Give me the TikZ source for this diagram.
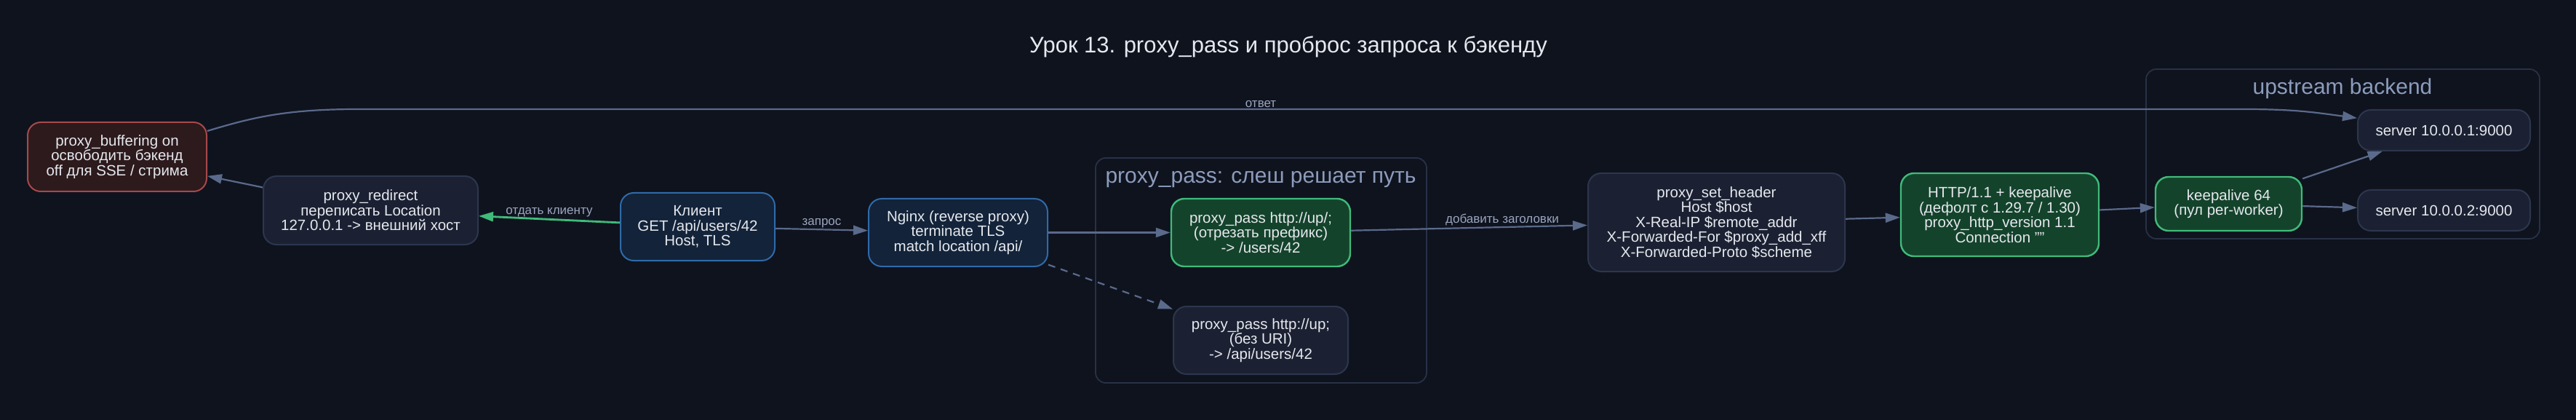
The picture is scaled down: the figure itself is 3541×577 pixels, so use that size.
\documentclass[tikz,border=0pt]{standalone}
\usepackage{fontspec}
\setmainfont{Liberation Sans}
\usetikzlibrary{arrows.meta}

\definecolor{bgc}{HTML}{0F131E}
\definecolor{txtc}{HTML}{E5E8EE}
\definecolor{lblc}{HTML}{9AA5BD}
\definecolor{edgec}{HTML}{5A6A8B}
\definecolor{plainfill}{HTML}{1B2132}
\definecolor{plainline}{HTML}{2C364D}
\definecolor{bluefill}{HTML}{132339}
\definecolor{blueline}{HTML}{2F6AA9}
\definecolor{okfill}{HTML}{14432B}
\definecolor{okline}{HTML}{3FBB7A}
\definecolor{warnfill}{HTML}{2C1A1C}
\definecolor{warnline}{HTML}{A6494A}
\definecolor{clusline}{HTML}{283146}
\definecolor{clustext}{HTML}{8C9CBC}

\tikzset{
  box/.style={draw, rounded corners=18pt, line width=2pt, align=center, text=txtc,
    minimum height=93pt, inner sep=0pt, font=\fontsize{20.5}{20.5}\selectfont},
  plainbox/.style={box, fill=plainfill, draw=plainline},
  bluebox/.style={box, fill=bluefill, draw=blueline},
  okbox/.style={box, fill=okfill, draw=okline, line width=2.4pt},
  warnbox/.style={box, fill=warnfill, draw=warnline},
  edge/.style={draw=edgec, line width=2.2pt, -{Triangle[length=20pt,width=13pt]}},
  lbl/.style={text=lblc, font=\fontsize{17}{17}\selectfont, inner sep=1.5pt},
  cluster/.style={draw=clusline, line width=1.8pt, rounded corners=14pt},
  ctitle/.style={text=clustext, anchor=base, font=\fontsize{30}{30}\selectfont},
}

\begin{document}
\begin{tikzpicture}[x=1pt, y=-1pt]
    % Fundo
    \fill[bgc] (0,0) rectangle (3541,577);
    \useasboundingbox (0,0) rectangle (3541,577);
    \node[anchor=base, text=txtc, font=\fontsize{31}{31}\selectfont] (title) at (1771,73) {Урок 13. proxy\_pass и проброс запроса к бэкенду};

    % Clusters
    \draw[cluster] (1506,217) rectangle (1961,526);
    \node[ctitle] (pptitle) at (1733,252) {proxy\_pass: слеш решает путь};
    \draw[cluster] (2950,95) rectangle (3491,328);
    \node[ctitle] (uptitle) at (3220,130) {upstream backend};

    % Nodes
    \node[warnbox, minimum width=246pt, minimum height=95pt] (buf) at (161,215.5) {proxy\_buffering on\\освободить бэкенд\\off для SSE / стрима};
    \node[plainbox, minimum width=295pt, minimum height=94pt] (redir) at (509.5,289) {proxy\_redirect\\переписать Location\\127.0.0.1 -> внешний хост};
    \node[bluebox, minimum width=212pt] (cli) at (959,311.5) {Клиент\\GET /api/users/42\\Host, TLS};
    \node[bluebox, minimum width=246pt] (ngx) at (1317,319.5) {Nginx (reverse proxy)\\terminate TLS\\match location /api/};
    \node[okbox, minimum width=246pt] (pp1) at (1733,319.5) {proxy\_pass http://up/;\\(отрезать префикс)\\-> /users/42};
    \node[plainbox, minimum width=240pt] (pp2) at (1733,467.5) {proxy\_pass http://up;\\(без URI)\\-> /api/users/42};
    \node[plainbox, minimum width=353pt, minimum height=135pt] (hdr) at (2359.5,305.5) {proxy\_set\_header\\Host \$host\\X-Real-IP \$remote\_addr\\X-Forwarded-For \$proxy\_add\_xff\\X-Forwarded-Proto \$scheme};
    \node[okbox, minimum width=272pt, minimum height=114pt] (http) at (2749,295) {HTTP/1.1 + keepalive\\(дефолт с 1.29.7 / 1.30)\\proxy\_http\_version 1.1\\Connection ""};
    \node[okbox, minimum width=201pt, minimum height=74pt] (keep) at (3063.5,280) {keepalive 64\\(пул per-worker)};
    \node[plainbox, minimum width=237pt, minimum height=56pt] (srv1) at (3359.5,179) {server 10.0.0.1:9000};
    \node[plainbox, minimum width=237pt, minimum height=56pt] (srv2) at (3359.5,289) {server 10.0.0.2:9000};

    % Request
    \draw[edge] (cli) -- node[lbl, above] {запрос} (ngx);
    \draw[edge] (ngx) -- (pp1);
    \draw[edge, dash pattern=on 10pt off 8pt] (ngx) -- (pp2);
    \draw[edge] (pp1) -- node[lbl, above, pos=0.64] {добавить заголовки} (hdr);
    \draw[edge] (hdr) -- (http);
    \draw[edge] (http) -- (keep);
    \draw[edge] (keep) -- (srv1);
    \draw[edge] (keep) -- (srv2);

    % Response
    \coordinate (ansL) at (491,150);
    \coordinate (ansR) at (3084,150);
    \draw[edge] (buf.16) .. controls +(60,-18) and +(-100,0) .. (ansL) -- node[lbl, above, pos=0.479] {ответ} (ansR) .. controls +(70,0) and +(-60,-8) .. (srv1.172);
    \draw[edge, draw=okline, line width=2.8pt] (cli.177) -- node[lbl, above] {отдать клиенту} (redir.-3);
    \draw[edge] (redir.168) -- (buf.-12);
\end{tikzpicture}
\end{document}
